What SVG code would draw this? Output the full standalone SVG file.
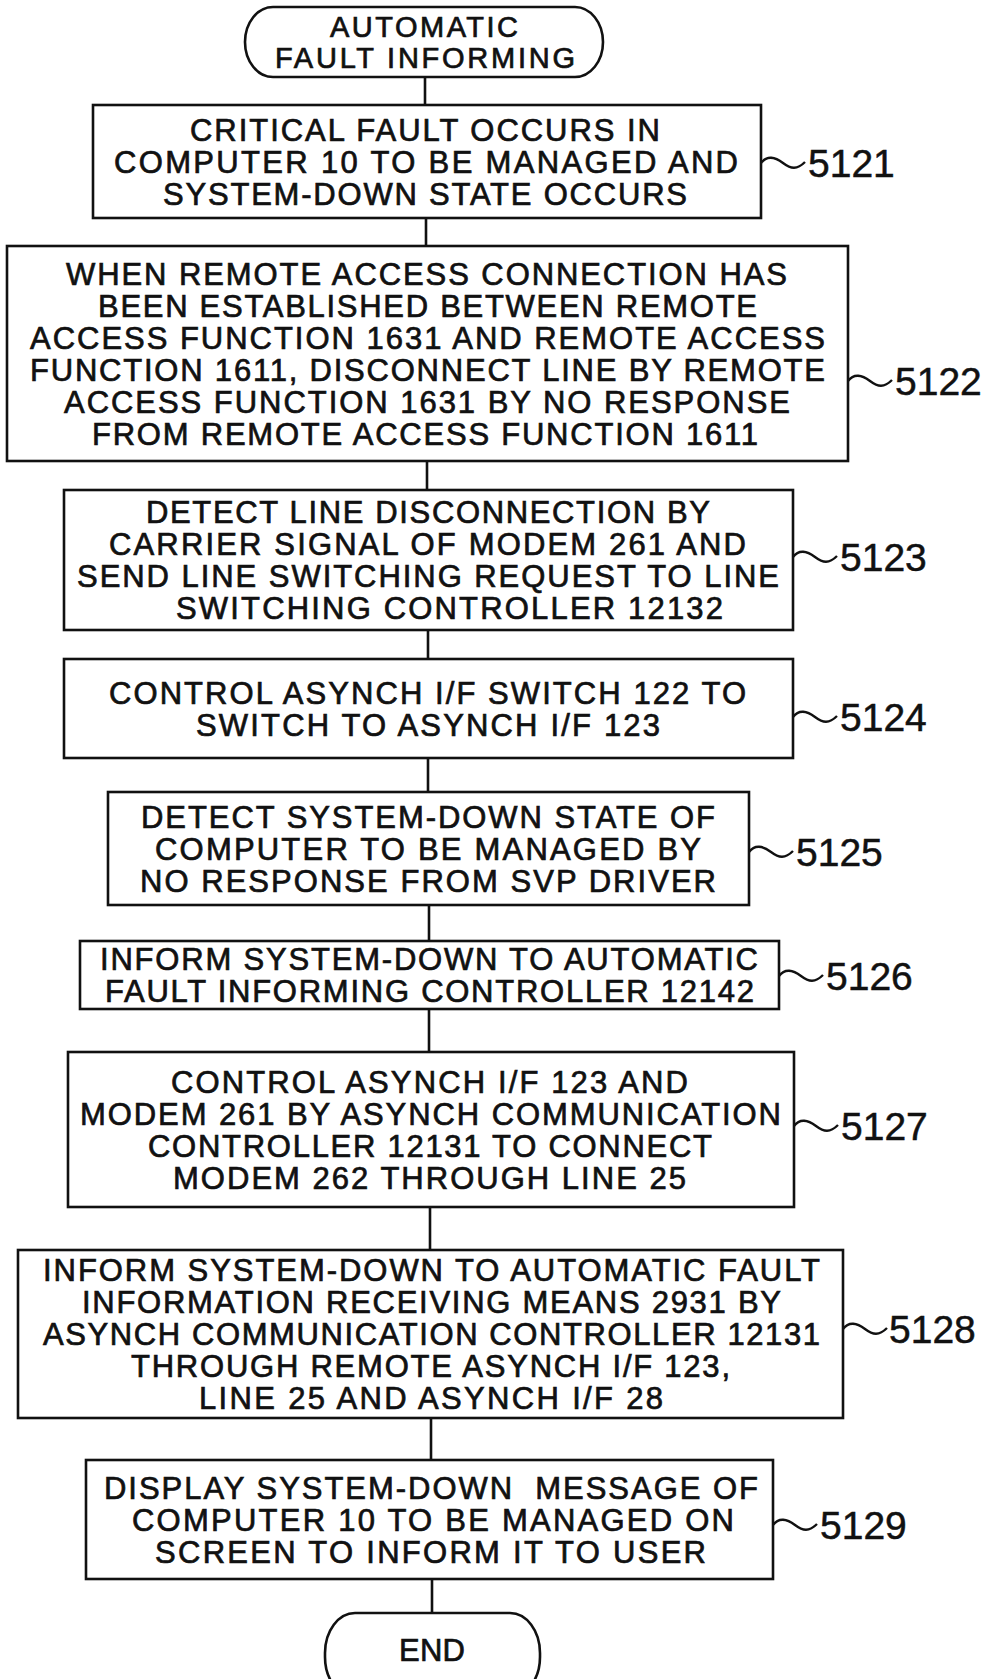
<svg xmlns="http://www.w3.org/2000/svg" width="990" height="1679" viewBox="0 0 990 1679">
<style>
.b{fill:#fff;stroke:#111;stroke-width:2.6}
.t{font-family:"Liberation Sans",Arial,sans-serif;font-size:31px;fill:#111;stroke:#111;stroke-width:0.7}
.n{font-family:"Liberation Sans",Arial,sans-serif;font-size:39px;fill:#111;stroke:#111;stroke-width:0.5}
.c line{stroke:#111;stroke-width:2.6}
.w{fill:none;stroke:#111;stroke-width:2.4}
</style>
<rect width="990" height="1679" fill="#fff"/>
<g class="c" id="connectors">
<line x1="425" y1="77" x2="425" y2="105"/>
<line x1="426" y1="218" x2="426" y2="246"/>
<line x1="427" y1="461" x2="427" y2="490"/>
<line x1="428" y1="630" x2="428" y2="659"/>
<line x1="428" y1="758" x2="428" y2="792"/>
<line x1="429" y1="905" x2="429" y2="941"/>
<line x1="429" y1="1009" x2="429" y2="1052"/>
<line x1="430" y1="1207" x2="430" y2="1250"/>
<line x1="431" y1="1418" x2="431" y2="1460"/>
<line x1="432" y1="1579" x2="432" y2="1613"/>
</g>
<g id="start">
<rect class="b" x="245" y="7" width="358" height="70" rx="28" ry="35"/>
<text class="t" x="330" y="37" textLength="188" style="font-size:29px">AUTOMATIC</text>
<text class="t" x="275" y="68" textLength="300" style="font-size:29px">FAULT INFORMING</text>
</g>
<g id="s5121">
<rect class="b" x="93" y="105" width="668" height="113"/>
<text class="t" x="190" y="140.5" textLength="470">CRITICAL FAULT OCCURS IN</text>
<text class="t" x="114" y="172.5" textLength="624">COMPUTER 10 TO BE MANAGED AND</text>
<text class="t" x="163" y="204.5" textLength="524">SYSTEM-DOWN STATE OCCURS</text>
<path class="w" d="M0 0C6 -8 14 -6 22 0S36 7 44 -1" transform="translate(761,163)"/>
<text class="n" x="808" y="177">5121</text>
</g>
<g id="s5122">
<rect class="b" x="7" y="246" width="841" height="215"/>
<text class="t" x="66" y="284.5" textLength="721">WHEN REMOTE ACCESS CONNECTION HAS</text>
<text class="t" x="98" y="316.5" textLength="659">BEEN ESTABLISHED BETWEEN REMOTE</text>
<text class="t" x="30" y="348.5" textLength="795">ACCESS FUNCTION 1631 AND REMOTE ACCESS</text>
<text class="t" x="30" y="380.5" textLength="795">FUNCTION 1611, DISCONNECT LINE BY REMOTE</text>
<text class="t" x="64" y="412.5" textLength="726">ACCESS FUNCTION 1631 BY NO RESPONSE</text>
<text class="t" x="92" y="444.5" textLength="666">FROM REMOTE ACCESS FUNCTION 1611</text>
<path class="w" d="M0 0C6 -8 14 -6 22 0S36 7 44 -1" transform="translate(848,381)"/>
<text class="n" x="895" y="395">5122</text>
</g>
<g id="s5123">
<rect class="b" x="64" y="490" width="729" height="140"/>
<text class="t" x="146" y="523" textLength="564">DETECT LINE DISCONNECTION BY</text>
<text class="t" x="109" y="555" textLength="637">CARRIER SIGNAL OF MODEM 261 AND</text>
<text class="t" x="77" y="587" textLength="702">SEND LINE SWITCHING REQUEST TO LINE</text>
<text class="t" x="176" y="619" textLength="547">SWITCHING CONTROLLER 12132</text>
<path class="w" d="M0 0C6 -8 14 -6 22 0S36 7 44 -1" transform="translate(793,557)"/>
<text class="n" x="840" y="571">5123</text>
</g>
<g id="s5124">
<rect class="b" x="64" y="659" width="729" height="99"/>
<text class="t" x="109" y="703.5" textLength="637">CONTROL ASYNCH I/F SWITCH 122 TO</text>
<text class="t" x="196" y="735.5" textLength="464">SWITCH TO ASYNCH I/F 123</text>
<path class="w" d="M0 0C6 -8 14 -6 22 0S36 7 44 -1" transform="translate(793,717)"/>
<text class="n" x="840" y="731">5124</text>
</g>
<g id="s5125">
<rect class="b" x="108" y="792" width="641" height="113"/>
<text class="t" x="141" y="827.5" textLength="574">DETECT SYSTEM-DOWN STATE OF</text>
<text class="t" x="155" y="859.5" textLength="546">COMPUTER TO BE MANAGED BY</text>
<text class="t" x="140" y="891.5" textLength="576">NO RESPONSE FROM SVP DRIVER</text>
<path class="w" d="M0 0C6 -8 14 -6 22 0S36 7 44 -1" transform="translate(749,852)"/>
<text class="n" x="796" y="866">5125</text>
</g>
<g id="s5126">
<rect class="b" x="80" y="941" width="699" height="68"/>
<text class="t" x="100" y="970" textLength="658">INFORM SYSTEM-DOWN TO AUTOMATIC</text>
<text class="t" x="105" y="1002" textLength="649">FAULT INFORMING CONTROLLER 12142</text>
<path class="w" d="M0 0C6 -8 14 -6 22 0S36 7 44 -1" transform="translate(779,976)"/>
<text class="n" x="826" y="990">5126</text>
</g>
<g id="s5127">
<rect class="b" x="68" y="1052" width="726" height="155"/>
<text class="t" x="171" y="1092.5" textLength="517">CONTROL ASYNCH I/F 123 AND</text>
<text class="t" x="80" y="1124.5" textLength="701">MODEM 261 BY ASYNCH COMMUNICATION</text>
<text class="t" x="148" y="1156.5" textLength="564">CONTROLLER 12131 TO CONNECT</text>
<text class="t" x="173" y="1188.5" textLength="513">MODEM 262 THROUGH LINE 25</text>
<path class="w" d="M0 0C6 -8 14 -6 22 0S36 7 44 -1" transform="translate(794,1126)"/>
<text class="n" x="841" y="1140">5127</text>
</g>
<g id="s5128">
<rect class="b" x="18" y="1250" width="825" height="168"/>
<text class="t" x="43" y="1281" textLength="777">INFORM SYSTEM-DOWN TO AUTOMATIC FAULT</text>
<text class="t" x="82" y="1313" textLength="699">INFORMATION RECEIVING MEANS 2931 BY</text>
<text class="t" x="43" y="1345" textLength="777">ASYNCH COMMUNICATION CONTROLLER 12131</text>
<text class="t" x="131" y="1377" textLength="599">THROUGH REMOTE ASYNCH I/F 123,</text>
<text class="t" x="199" y="1409" textLength="464">LINE 25 AND ASYNCH I/F 28</text>
<path class="w" d="M0 0C6 -8 14 -6 22 0S36 7 44 -1" transform="translate(843,1329)"/>
<text class="n" x="889" y="1343">5128</text>
</g>
<g id="s5129">
<rect class="b" x="86" y="1460" width="687" height="119"/>
<text class="t" x="104" y="1498.5" textLength="654" xml:space="preserve">DISPLAY SYSTEM-DOWN  MESSAGE OF</text>
<text class="t" x="132" y="1530.5" textLength="602">COMPUTER 10 TO BE MANAGED ON</text>
<text class="t" x="155" y="1562.5" textLength="551">SCREEN TO INFORM IT TO USER</text>
<path class="w" d="M0 0C6 -8 14 -6 22 0S36 7 44 -1" transform="translate(773,1525)"/>
<text class="n" x="820" y="1539">5129</text>
</g>
<g id="end">
<rect class="b" x="325" y="1613" width="215" height="84" rx="30" ry="40"/>
<text class="t" x="399" y="1661" textLength="66">END</text>
</g>
</svg>
